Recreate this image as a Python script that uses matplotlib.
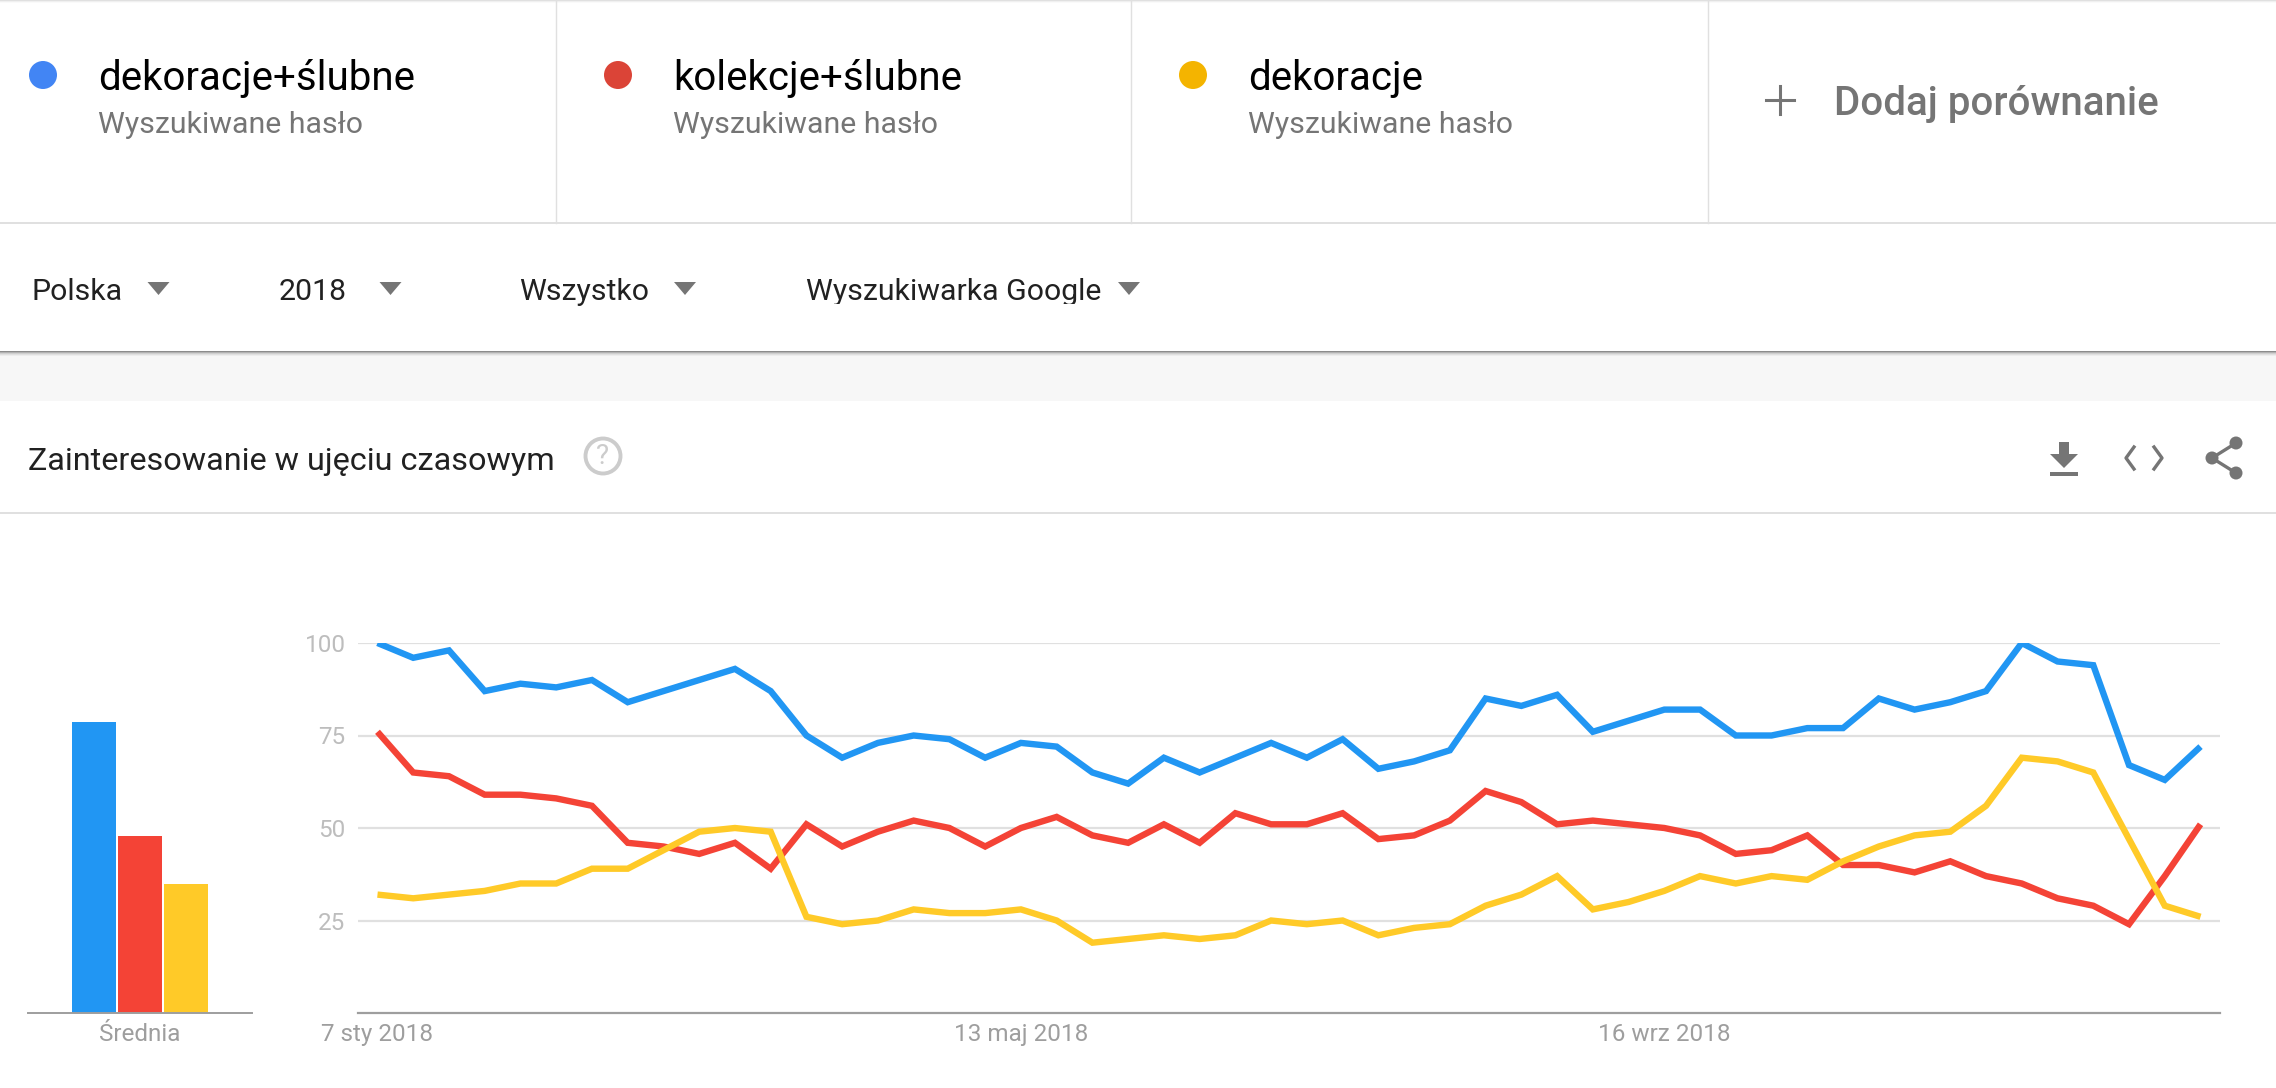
import matplotlib
matplotlib.use('Agg')
import matplotlib.pyplot as plt
from matplotlib.patches import Circle, Polygon, Rectangle

W, H = 2276, 1088

plt.rcParams['font.family'] = ['Roboto', 'DejaVu Sans']

terms = ['dekoracje+ślubne', 'kolekcje+ślubne', 'dekoracje']
term_sub = 'Wyszukiwane hasło'
add_label = 'Dodaj porównanie'
filters = ['Polska', '2018', 'Wszystko', 'Wyszukiwarka Google']
section_title = 'Zainteresowanie w ujęciu czasowym'

blue = [100, 96, 98, 87, 89, 88, 90, 84, 87, 90, 93, 87, 75, 69, 73, 75, 74, 69,
        73, 72, 65, 62, 69, 65, 69, 73, 69, 74, 66, 68, 71, 85, 83, 86, 76, 79,
        82, 82, 75, 75, 77, 77, 85, 82, 84, 87, 100, 95, 94, 67, 63, 72]
red = [76, 65, 64, 59, 59, 58, 56, 46, 45, 43, 46, 39, 51, 45, 49, 52, 50, 45,
       50, 53, 48, 46, 51, 46, 54, 51, 51, 54, 47, 48, 52, 60, 57, 51, 52, 51,
       50, 48, 43, 44, 48, 40, 40, 38, 41, 37, 35, 31, 29, 24, 37, 51]
yellow = [32, 31, 32, 33, 35, 35, 39, 39, 44, 49, 50, 49, 26, 24, 25, 28, 27, 27,
          28, 25, 19, 20, 21, 20, 21, 25, 24, 25, 21, 23, 24, 29, 32, 37, 28, 30,
          33, 37, 35, 37, 36, 41, 45, 48, 49, 56, 69, 68, 65, 47, 29, 26]
averages = [78.6, 47.8, 34.9]

y_ticks = [25, 50, 75, 100]
x_tick_pos = [0, 18, 36]
x_tick_labels = ['7 sty 2018', '13 maj 2018', '16 wrz 2018']
avg_label = 'Średnia'

line_colors = ['#2196F3', '#F44336', '#FFCA28']
dot_colors = ['#4285F4', '#DB4437', '#F4B400']
grid_color = '#E0E0E0'
axis_color = '#9E9E9E'


def px_axes(fig, x0, x1, y0, y1):
    # pixel box, y counted from the top of the image
    ax = fig.add_axes([x0 / W, 1 - y1 / H, (x1 - x0) / W, (y1 - y0) / H])
    ax.patch.set_alpha(0)
    return ax


fig = plt.figure(figsize=(W / 100, H / 100), dpi=100, facecolor='white')

# page furniture, drawn in image pixels
ui = fig.add_axes([0, 0, 1, 1])
ui.set_xlim(0, W)
ui.set_ylim(H, 0)
ui.axis('off')

for i, a in enumerate([0.12, 0.06, 0.02]):
    ui.add_patch(Rectangle((0, i), W, 1, color='black', alpha=a, lw=0))

ui.add_patch(Rectangle((0, 352), W, 49, color='#F7F7F7', lw=0))
for i, a in enumerate([0.45, 0.28, 0.16, 0.09, 0.04]):
    ui.add_patch(Rectangle((0, 351 + i), W, 1, color='black', alpha=a, lw=0))

ui.plot([0, W], [223, 223], color=grid_color, lw=1.4)
ui.plot([0, W], [513, 513], color=grid_color, lw=1.4)
for x in [556, 1131, 1708]:
    ui.plot([x, x], [0, 223], color=grid_color, lw=1)

for x, name, col in zip([43, 618, 1193], terms, dot_colors):
    ui.add_patch(Circle((x, 75), 14, color=col, lw=0))
    ui.text(x + 55, 89.5, name, fontsize=29, color='#000000', ha='left', va='baseline')
    ui.text(x + 55, 133, term_sub, fontsize=21.8, color='#757575', ha='left', va='baseline')

ui.plot([1780, 1780], [86, 114], color='#757575', lw=2.2)
ui.plot([1766, 1794], [100, 100], color='#757575', lw=2.2)
ui.text(1834, 115, add_label, fontsize=29, color='#757575', weight='medium', ha='left', va='baseline')

for x, tx, label in zip([32, 279, 519, 806], [158.5, 390.5, 685, 1129], filters):
    t = ui.text(x, 300, label, fontsize=21.8, color='#212121', ha='left', va='baseline')
    ui.add_patch(Polygon([(tx - 11, 282), (tx + 11, 282), (tx, 295)], color='#757575', lw=0))
# the last filter label is cut just under its baseline
t.set_clip_path(Rectangle((800, 270), 310, 33.5, transform=ui.transData))
t.set_clip_on(True)

ui.text(28, 470, section_title, fontsize=23.3, color='#212121', ha='left', va='baseline')
ui.add_patch(Circle((603, 456), 17.5, fill=False, ec='#CCCCCC', lw=2.8))
ui.text(603, 456, '?', fontsize=20, color='#CCCCCC', ha='center', va='center')

# download, code and share icons
ui.add_patch(Polygon([(2059, 442), (2069, 442), (2069, 454), (2078, 454), (2064, 468),
                      (2050, 454), (2059, 454)], color='#757575', lw=0))
ui.add_patch(Rectangle((2050, 472), 28, 3.5, color='#757575', lw=0))
ui.plot([2134, 2126, 2134], [447, 458, 469], color='#757575', lw=2.4)
ui.plot([2154, 2162, 2154], [447, 458, 469], color='#757575', lw=2.4)
ui.plot([2236, 2212, 2236], [443, 458, 473], color='#757575', lw=2.4)
for cx, cy in [(2236, 443), (2212, 458), (2236, 473)]:
    ui.add_patch(Circle((cx, cy), 6.5, color='#757575', lw=0))

# average bars
ax_bar = px_axes(fig, 28, 252, 643, 1013)
ax_bar.bar(range(len(averages)), averages, width=0.96, color=line_colors, zorder=2)
ax_bar.set_xlim(-1.435, 3.435)
ax_bar.set_ylim(0, 100)
ax_bar.set_yticks([])
ax_bar.set_xticks([1])
ax_bar.set_xticklabels([avg_label], fontsize=17.5, color=axis_color)
ax_bar.tick_params(axis='x', length=0, pad=7)
for s in ['top', 'left', 'right']:
    ax_bar.spines[s].set_visible(False)
ax_bar.spines['bottom'].set_color(axis_color)
ax_bar.spines['bottom'].set_linewidth(1.4)

# weekly lines
ax = px_axes(fig, 358, 2220, 643, 1013)
weeks = list(range(len(blue)))
for vals, col in zip([blue, red, yellow], line_colors):
    ax.plot(weeks, vals, color=col, lw=4.6, solid_capstyle='butt', solid_joinstyle='miter', zorder=3)
ax.set_xlim(-0.545, 51.545)
ax.set_ylim(0, 100)
ax.set_yticks(y_ticks)
ax.set_yticklabels([str(v) for v in y_ticks], fontsize=17.5, color='#BDBDBD')
ax.set_xticks(x_tick_pos)
ax.set_xticklabels(x_tick_labels, fontsize=17.5, color=axis_color)
ax.tick_params(axis='both', length=0)
ax.tick_params(axis='y', pad=9)
ax.tick_params(axis='x', pad=7)
ax.grid(axis='y', color=grid_color, lw=1.6, zorder=0)
ax.set_axisbelow(True)
for s in ['top', 'left', 'right']:
    ax.spines[s].set_visible(False)
ax.spines['bottom'].set_color(axis_color)
ax.spines['bottom'].set_linewidth(1.6)

fig.savefig('out.png', dpi=100)
